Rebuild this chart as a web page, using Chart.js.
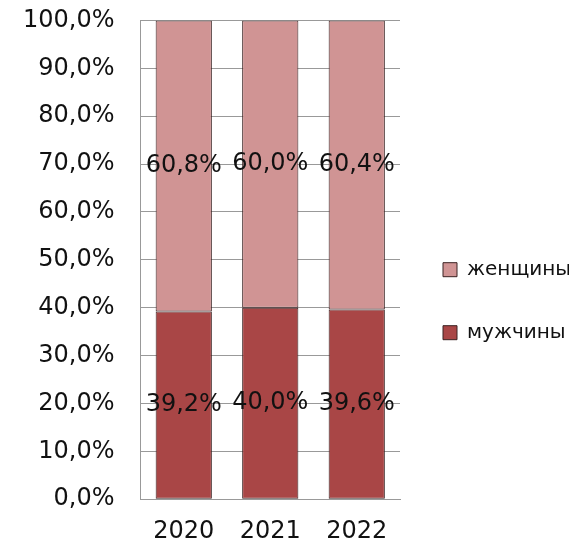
<!DOCTYPE html>
<html>
<head>
<meta charset="utf-8">
<script src="https://cdn.jsdelivr.net/npm/chart.js@4/dist/chart.umd.min.js"></script>
<style>
  html, body { margin: 0; padding: 0; background: #fff; }
  #wrap { width: 569px; height: 547px; }
</style>
</head>
<body>
<div id="wrap"><canvas id="genderChart" width="569" height="547"></canvas></div>
<script>
var years = ['2020', '2021', '2022'];
var men = [39.2, 40.0, 39.6];   // мужчины, %
var women = [60.8, 60.0, 60.4]; // женщины, %
var yTicks = [0, 10, 20, 30, 40, 50, 60, 70, 80, 90, 100];

var FONT = "'DejaVu Sans', Verdana, sans-serif";

function pct(v) {
  return v.toFixed(1).replace('.', ',') + '%';
}

//write the value in the middle of every bar segment
var segmentLabels = {
  id: 'segmentLabels',
  afterDatasetsDraw: function(chart) {
    var ctx = chart.ctx;
    ctx.save();
    ctx.font = '24px ' + FONT;
    ctx.fillStyle = '#111';
    ctx.textAlign = 'center';
    ctx.textBaseline = 'middle';
    chart.data.datasets.forEach(function(ds, i) {
      var meta = chart.getDatasetMeta(i);
      meta.data.forEach(function(bar, j) {
        var mid = (bar.y + bar.base) / 2;
        ctx.fillText(pct(ds.data[j]), bar.x, mid);
      });
    });
    ctx.restore();
  }
};

new Chart(document.getElementById('genderChart'), {
  type: 'bar',
  data: {
    labels: years,
    datasets: [{
      label: 'мужчины',
      data: men,
      backgroundColor: '#A94646',
      borderColor: '#3a2222',
      borderWidth: 1,
      borderSkipped: false
    }, {
      label: 'женщины',
      data: women,
      backgroundColor: '#D09494',
      borderColor: '#3a2222',
      borderWidth: 1,
      borderSkipped: false
    }]
  },
  options: {
    responsive: false,
    animation: false,
    layout: { padding: { left: 17, top: 0, right: 0, bottom: -17 } },
    datasets: {
      bar: { categoryPercentage: 1, barPercentage: 0.65 }
    },
    scales: {
      x: {
        stacked: true,
        grid: { display: false, drawTicks: false },
        border: { display: true, color: '#999', width: 1 },
        ticks: { font: { family: FONT, size: 24 }, color: '#111', padding: 18 }
      },
      y: {
        stacked: true,
        min: 0,
        max: 100,
        afterBuildTicks: function(axis) {
          axis.ticks = yTicks.map(function(v) { return { value: v }; });
        },
        //invisible tick marks keep the labels away from the axis
        grid: { color: '#999', lineWidth: 1, drawTicks: true, tickLength: 20, tickColor: 'rgba(0,0,0,0)' },
        border: { display: true, color: '#999', width: 1 },
        ticks: {
          font: { family: FONT, size: 24 },
          color: '#111',
          padding: 6,
          callback: function(v) { return pct(v); }
        }
      }
    },
    plugins: {
      tooltip: { enabled: false },
      legend: {
        position: 'right',
        reverse: true,
        maxWidth: 169,
        //empty title only pushes the items down a bit
        title: { display: true, text: '', padding: 0, font: { size: 32 } },
        labels: {
          font: { family: FONT, size: 20 },
          color: '#111',
          boxWidth: 14,
          boxHeight: 14,
          padding: 43
        }
      }
    }
  },
  plugins: [segmentLabels]
});
</script>
</body>
</html>
